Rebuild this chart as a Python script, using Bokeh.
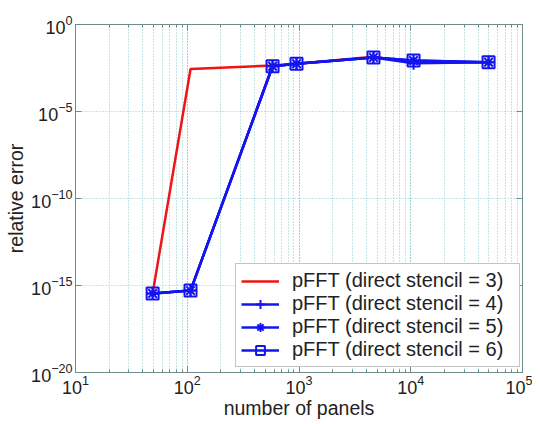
from bokeh.plotting import figure
from bokeh.models import LogAxis, FixedTicker, LogTicker, Legend, LegendItem
from bokeh.embed import file_html
from bokeh.resources import INLINE

# data
panels = [49, 107, 580, 950, 4640, 10600, 49700]
err_s3 = [3.5e-16, 2.8e-3, 4.4e-3, 5.6e-3, 1.4e-2, 6.3e-3, 6.8e-3]
err_s4 = [3.5e-16, 5.1e-16, 4.0e-3, 5.5e-3, 1.26e-2, 6.0e-3, 6.8e-3]
err_s5 = [3.5e-16, 5.1e-16, 4.0e-3, 5.5e-3, 1.26e-2, 8.5e-3, 6.8e-3]
err_s6 = [3.5e-16, 5.1e-16, 4.0e-3, 5.5e-3, 1.26e-2, 8.5e-3, 6.8e-3]
labels = ["pFFT (direct stencil = 3)", "pFFT (direct stencil = 4)",
          "pFFT (direct stencil = 5)", "pFFT (direct stencil = 6)"]
y_ticks = [1e-20, 1e-15, 1e-10, 1e-5, 1e0]

FONT = "Liberation Sans"
RED = "#f01414"
BLUE = "#1414f0"
FRAME = "#6f8c8c"
GRID = "#8ccccc"

p = figure(frame_width=447, frame_height=348, x_axis_type="log", y_axis_type="log",
           x_range=(10, 1e5), y_range=(1e-20, 1),
           output_backend="svg", toolbar_location=None,
           min_border_left=75, min_border_right=10, min_border_top=24,
           min_border_bottom=40)
p.background_fill_color = "white"
p.border_fill_color = "white"
p.outline_line_color = FRAME
p.outline_line_width = 1

p.xaxis.ticker = LogTicker(num_minor_ticks=10)
p.yaxis.ticker = FixedTicker(ticks=y_ticks, minor_ticks=[])

for ax in (p.xaxis[0], p.yaxis[0]):
    ax.axis_line_color = FRAME
    ax.major_tick_line_color = FRAME
    ax.minor_tick_line_color = FRAME
    ax.major_tick_in = 6
    ax.major_tick_out = 0
    ax.minor_tick_in = 3
    ax.minor_tick_out = 0
    ax.major_label_text_font = FONT
    ax.major_label_text_font_size = "18px"
    ax.major_label_text_color = "#222222"
    ax.major_label_standoff = 3
    ax.axis_label_text_font = FONT
    ax.axis_label_text_font_size = "19.5px"
    ax.axis_label_text_font_style = "normal"
    ax.axis_label_text_color = "#222222"
    ax.axis_label_standoff = 1

p.xaxis.axis_label = "number of panels"
p.yaxis.axis_label = "relative error"
p.xaxis.major_label_standoff = 2
p.xaxis.axis_label_standoff = 0

# top / right tick-only axes
common = dict(axis_line_color=FRAME, major_tick_line_color=FRAME, minor_tick_line_color=FRAME,
              major_tick_in=6, major_tick_out=0, minor_tick_in=3, minor_tick_out=0,
              major_label_standoff=0, major_label_text_font_size="1px",
              major_label_text_alpha=0)
top = LogAxis(ticker=LogTicker(num_minor_ticks=10), **common)
right = LogAxis(ticker=FixedTicker(ticks=y_ticks, minor_ticks=[]), **common)
p.add_layout(top, "above")
p.add_layout(right, "right")

for g in (p.xgrid[0], p.ygrid[0]):
    g.grid_line_color = GRID
    g.grid_line_dash = "1 2"
    g.grid_line_width = 1
p.xgrid[0].minor_grid_line_color = GRID
p.xgrid[0].minor_grid_line_dash = "1 2"
p.xgrid[0].minor_grid_line_width = 1

r3 = p.line(panels, err_s3, line_color=RED, line_width=2.5)

l4 = p.line(panels, err_s4, line_color=BLUE, line_width=2.5)
m4 = p.scatter(panels, err_s4, marker="cross", size=13, line_color=BLUE, line_width=2)
l5 = p.line(panels, err_s5, line_color=BLUE, line_width=2.5)
m5 = p.scatter(panels, err_s5, marker="asterisk", size=12, line_color=BLUE, line_width=2)
l6 = p.line(panels, err_s6, line_color=BLUE, line_width=2.5)
m6 = p.scatter(panels, err_s6, marker="square", size=12, line_color=BLUE, line_width=2,
               fill_color=None)

legend = Legend(items=[LegendItem(label=labels[0], renderers=[r3]),
                       LegendItem(label=labels[1], renderers=[l4, m4]),
                       LegendItem(label=labels[2], renderers=[l5, m5]),
                       LegendItem(label=labels[3], renderers=[l6, m6])],
                location=(160, 5))
legend.border_line_color = "#8c8888"
legend.border_line_width = 1
legend.background_fill_color = "white"
legend.background_fill_alpha = 1
legend.label_text_font = FONT
legend.label_text_font_size = "20px"
legend.label_text_color = "#222222"
legend.glyph_width = 38
legend.glyph_height = 22
legend.label_height = 22
legend.label_width = 222
legend.label_standoff = 13
legend.spacing = 0
legend.padding = 5
legend.margin = 0
p.add_layout(legend, "center")

open("out.html", "w").write(file_html(p, INLINE))
